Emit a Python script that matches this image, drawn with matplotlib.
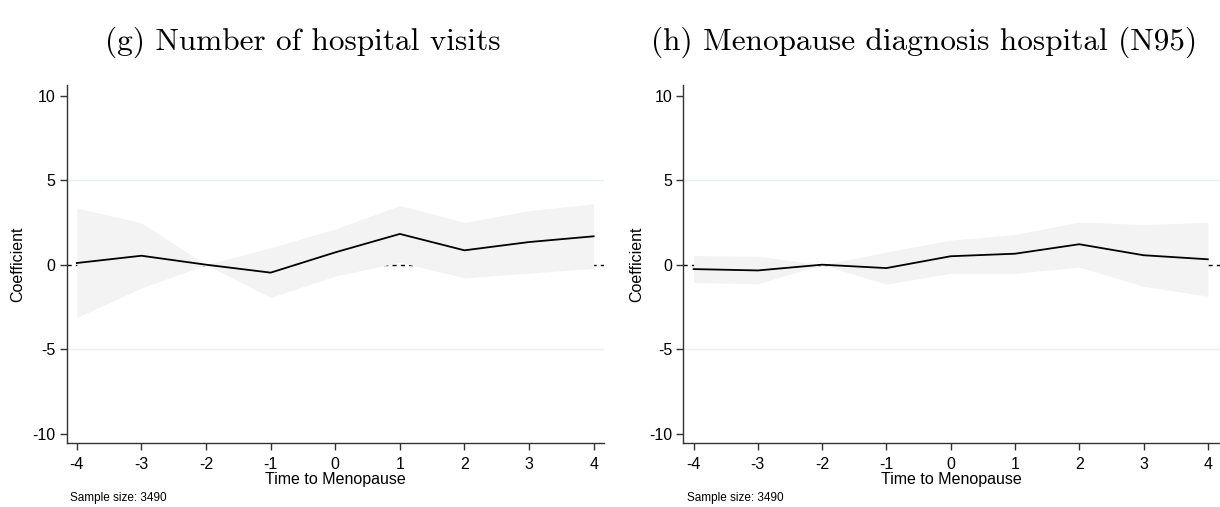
import matplotlib
matplotlib.use("Agg")
import matplotlib.pyplot as plt

# Event-study estimates by years relative to menopause
periods = [-4, -3, -2, -1, 0, 1, 2, 3, 4]

visits_coef = [0.10, 0.53, 0.0, -0.47, 0.73, 1.82, 0.85, 1.34, 1.68]
visits_upper = [3.36, 2.47, 0.0, 1.00, 2.11, 3.50, 2.50, 3.20, 3.60]
visits_lower = [-3.12, -1.38, 0.0, -1.94, -0.67, 0.14, -0.78, -0.50, -0.22]

n95_coef = [-0.26, -0.34, 0.0, -0.20, 0.50, 0.65, 1.21, 0.56, 0.32]
n95_upper = [0.54, 0.50, 0.0, 0.75, 1.45, 1.79, 2.52, 2.38, 2.50]
n95_lower = [-1.05, -1.13, 0.0, -1.15, -0.51, -0.51, -0.14, -1.28, -1.86]

titles = ["(g) Number of hospital visits", "(h) Menopause diagnosis hospital (N95)"]
y_ticks = [-10, -5, 0, 5, 10]
x_label = "Time to Menopause"
y_label = "Coefficient"
note = "Sample size: 3490"

plt.rcParams["axes.unicode_minus"] = False

sans = ["Liberation Sans", "DejaVu Sans"]
W, H = 1220, 507
fig = plt.figure(figsize=(W / 100, H / 100), dpi=100)

panels = [
    (visits_coef, visits_lower, visits_upper, 66.5, 604.0, 303, 17.5),
    (n95_coef, n95_lower, n95_upper, 683.3, 1220.0, 924, 636.5),
]
top_px, bot_px = 85.0, 442.7

for i, (coef, lo, hi, x0, x1, tx, ylab_x) in enumerate(panels):
    ax = fig.add_axes([x0 / W, 1 - bot_px / H, (x1 - x0) / W, (bot_px - top_px) / H])
    ax.set_xlim(-4.16, 4.16 if i == 0 else 4.19)
    ax.set_ylim(-10.53, 10.63)

    for g in (-5, 5):
        ax.axhline(g, color="#e9f1f2", lw=1.0, zorder=0)
    ax.axhline(0, color="black", lw=1.0, ls=(0, (3, 3)), zorder=1)
    ax.fill_between(periods, lo, hi, color="#f3f3f3", lw=0, zorder=2)
    ax.plot(periods, coef, color="black", lw=1.3, zorder=3)

    for s in ("top", "right"):
        ax.spines[s].set_visible(False)
    for s in ("left", "bottom"):
        ax.spines[s].set_color("#333333")
        ax.spines[s].set_linewidth(1.0)

    ax.set_xticks(periods)
    ax.set_yticks(y_ticks)
    ax.tick_params(axis="both", colors="#333333", labelcolor="black",
                   length=5, width=1.0, labelsize=11.5)
    ax.tick_params(axis="x", pad=5)
    ax.tick_params(axis="y", pad=3)
    for lab in ax.get_xticklabels() + ax.get_yticklabels():
        lab.set_family(sans)

    ax.set_xlabel(x_label, family=sans, fontsize=11.5, labelpad=0)
    ax.set_ylabel(y_label, family=sans, fontsize=11.5)
    ax.yaxis.set_label_coords((ylab_x - x0) / (x1 - x0), 0.5)
    ax.yaxis.label.set_va("center")

    fig.text((x0 + 3.5) / W, 1 - 498 / H, note, family=sans, fontsize=8.5,
             va="center", ha="left")
    fig.text(tx / W, 1 - 42 / H, titles[i], family="cmr10", fontsize=22.5,
             ha="center", va="center")

fig.savefig("out.png", dpi=100)
